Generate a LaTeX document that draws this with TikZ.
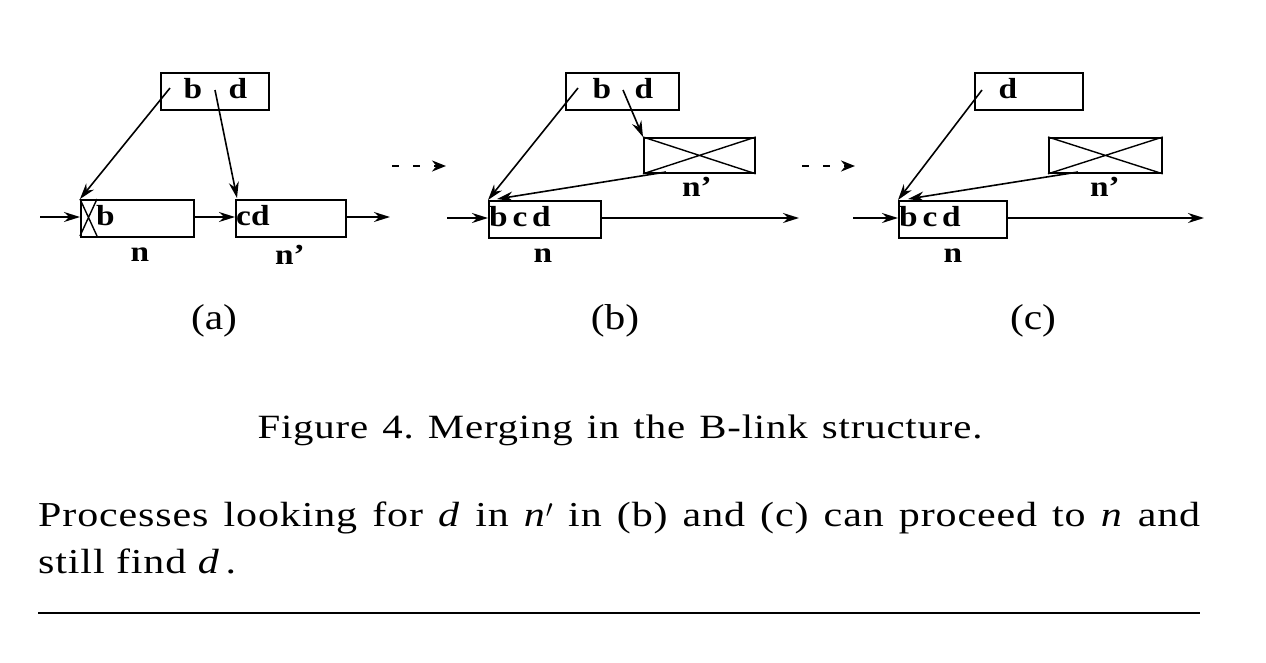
\documentclass[tikz,border=0pt]{standalone}
\usepackage{fontspec}
\setmainfont{Liberation Serif}[FakeStretch=1.15]
\newfontfamily\textfnt{Liberation Serif}[FakeStretch=1.2,LetterSpace=2.5]
\usetikzlibrary{arrows.meta}
\frenchspacing
\begin{document}
\begin{tikzpicture}[x=1pt,y=-1pt,
  box/.style={draw,line width=1.8pt,rectangle,inner sep=0pt,anchor=north west},
  lbl/.style={font=\fontsize{29}{29}\selectfont\bfseries,inner sep=0pt},
  plab/.style={font=\fontsize{36}{36}\selectfont,inner sep=0pt},
  arr/.style={line width=1.6pt,-{Stealth[length=16pt,width=10pt]}},
  dasharr/.style={line width=2pt,dash pattern=on 7pt off 14pt,-{Stealth[length=14pt,width=11pt]}},
  cross/.style={line width=1.4pt}]
\useasboundingbox (0,0) rectangle (1266,662);
% ---------- panel (a)
\node[box,minimum width=108pt,minimum height=37pt] (aT) at (160,72) {};
\node[lbl] (aTb) at (193,89) {b};
\node[lbl] (aTd) at (238,89) {d};
\coordinate (aTp1) at (170,88);
\coordinate (aTp2) at (215,90);
\node[box,minimum width=113pt,minimum height=37pt] (aN) at (80,199) {};
\node[lbl,anchor=west] (aNt) at (96,216) {b};
\draw[cross] (80,199) -- (97,236) (97,199) -- (80,236);
\node[box,minimum width=110pt,minimum height=37pt] (aNp) at (235,199) {};
\node[lbl,anchor=west] (aNpt) at (236,216) {cd};
\coordinate (aIn) at (40,217);
\coordinate (aOut) at (390,217);
\draw[arr] (aTp1) -- (aN.north west);
\draw[arr] (aTp2) -- (237,198);
\draw[arr] (aIn) -- (aN.west |- aIn);
\draw[arr] (aN.east |- aIn) -- (aNp.west |- aIn);
\draw[arr] (aNp.east |- aIn) -- (aOut);
\node[lbl] (aNl) at (140,255) {n};
\node[lbl] (aNpl) at (290,255) {n'};
\node[plab] (alab) at (214,321) {(a)};
% dashed arrow
\coordinate (d1s) at (392,166);
\coordinate (d1e) at (446,166);
\draw[dasharr] (d1s) -- (d1e);
% ---------- panel (b)
\node[box,minimum width=113pt,minimum height=37pt] (bT) at (565,72) {};
\node[lbl] (bTb) at (602,89) {b};
\node[lbl] (bTd) at (644,89) {d};
\coordinate (bTp1) at (578,88);
\coordinate (bTp2) at (623,90);
\node[box,minimum width=111pt,minimum height=35pt] (bX) at (643,137) {};
\draw[cross] (bX.north west) -- (bX.south east) (bX.north east) -- (bX.south west);
\node[box,minimum width=112pt,minimum height=37pt] (bN) at (488,200) {};
\node[lbl,anchor=west] (bNt) at (489,217) {b\,c\,d};
\coordinate (bIn) at (447,218);
\coordinate (bOut) at (799,218);
\draw[arr] (bTp1) -- (bN.north west);
\draw[arr] (bTp2) -- (bX.north west);
\draw[arr] (666,172) -- (497,199);
\draw[arr] (bIn) -- (bN.west |- bIn);
\draw[arr] (bN.east |- bIn) -- (bOut);
\node[lbl] (bNl) at (543,256) {n};
\node[lbl] (bXl) at (697,187) {n'};
\node[plab] (blab) at (615,321) {(b)};
% dashed arrow
\coordinate (d2s) at (802,166);
\coordinate (d2e) at (855,166);
\draw[dasharr] (d2s) -- (d2e);
% ---------- panel (c)
\node[box,minimum width=108pt,minimum height=37pt] (cT) at (974,72) {};
\node[lbl] (cTd) at (1008,89) {d};
\coordinate (cTp1) at (982,90);
\node[box,minimum width=113pt,minimum height=35pt] (cX) at (1048,137) {};
\draw[cross] (cX.north west) -- (cX.south east) (cX.north east) -- (cX.south west);
\node[box,minimum width=108pt,minimum height=37pt] (cN) at (898,200) {};
\node[lbl,anchor=west] (cNt) at (899,217) {b\,c\,d};
\coordinate (cIn) at (853,218);
\coordinate (cOut) at (1204,218);
\draw[arr] (cTp1) -- (cN.north west);
\draw[arr] (1078,172) -- (908,199);
\draw[arr] (cIn) -- (cN.west |- cIn);
\draw[arr] (cN.east |- cIn) -- (cOut);
\node[lbl] (cNl) at (953,256) {n};
\node[lbl] (cXl) at (1105,187) {n'};
\node[plab] (clab) at (1033,321) {(c)};
% ---------- caption and text
\node[font=\fontsize{34}{34}\textfnt,inner sep=0pt] (cap) at (620,430) {\makebox[725pt][s]{Figure 4. Merging in the B-link structure.}};
\node[font=\fontsize{35}{42}\textfnt,anchor=west,inner sep=0pt] (p1) at (38,518) {\makebox[1162pt][s]{Processes looking for \textit{d} in \textit{n}$'$ in (b) and (c) can proceed to \textit{n} and}};
\node[font=\fontsize{35}{42}\textfnt,anchor=west,inner sep=0pt] (p2) at (38,561) {still find \textit{d}\,.};
\coordinate (r1) at (38,613);
\coordinate (r2) at (1200,613);
\draw[line width=2.5pt] (r1) -- (r2);
\end{tikzpicture}
\end{document}
